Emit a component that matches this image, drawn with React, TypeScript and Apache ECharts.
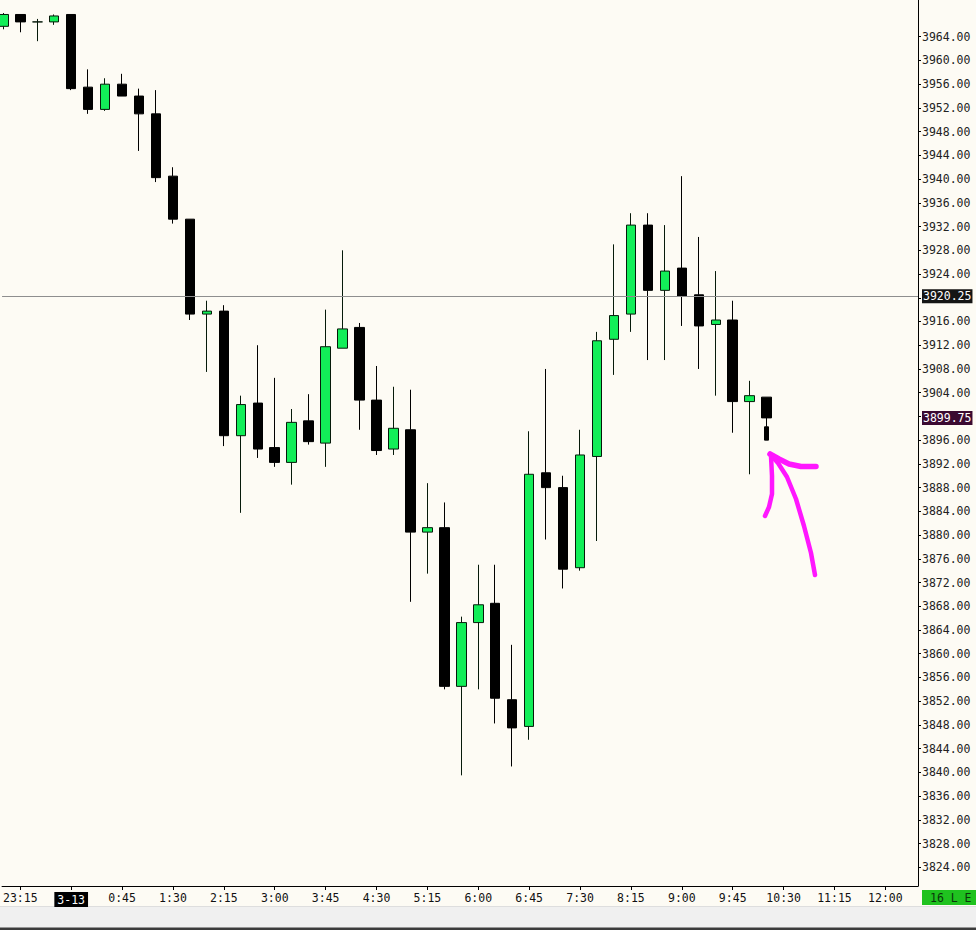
import React, { useEffect, useRef } from "react";
import * as echarts from "echarts";

// 15-minute candles, 3-12 23:00 .. 3-13 10:15
const TIMES = [
  "23:00", "23:15", "23:30", "23:45", "0:00", "0:15", "0:30", "0:45", "1:00", "1:15",
  "1:30", "1:45", "2:00", "2:15", "2:30", "2:45", "3:00", "3:15", "3:30", "3:45",
  "4:00", "4:15", "4:30", "4:45", "5:00", "5:15", "5:30", "5:45", "6:00", "6:15",
  "6:30", "6:45", "7:00", "7:15", "7:30", "7:45", "8:00", "8:15", "8:30", "8:45",
  "9:00", "9:15", "9:30", "9:45", "10:00", "10:15",
];
const OPEN = [
  3965.75, 3967.75, 3966.5, 3966.5, 3967.75, 3955.5, 3951.75, 3956, 3954, 3951,
  3940.5, 3933.25, 3917.25, 3917.75, 3896.75, 3902.25, 3894.75, 3892.25, 3899.25, 3895.5,
  3911.5, 3915, 3902.75, 3894.5, 3897.75, 3880.5, 3881.25, 3854.5, 3865.25, 3868.5,
  3852.25, 3847.75, 3890.5, 3888, 3874.5, 3893.25, 3913, 3917.25, 3932.25, 3921.25,
  3925, 3920.5, 3915.5, 3916.25, 3902.5, 3903.25,
];
const CLOSE = [
  3967.75, 3966.5, 3966.5, 3967.5, 3955.25, 3951.75, 3956, 3954, 3951, 3940.25,
  3933.25, 3917.25, 3917.75, 3896.75, 3902, 3894.5, 3892.25, 3899, 3895.75, 3911.75,
  3914.75, 3902.75, 3894.25, 3898, 3880.5, 3881.25, 3854.5, 3865.25, 3868.25, 3852.5,
  3847.5, 3890.25, 3888, 3874.25, 3893.5, 3912.75, 3917, 3932.25, 3921.25, 3924.5,
  3920.25, 3915.25, 3916.25, 3902.5, 3903.5, 3899.75,
];
const LOW = [
  3965.25, 3964.75, 3963.25, 3966, 3955, 3951, 3951.5, 3954, 3944.75, 3939.5,
  3932.5, 3916.25, 3907.5, 3895, 3883.75, 3893, 3891.5, 3888.5, 3895.25, 3891.5,
  3911.5, 3897.75, 3893.5, 3893.5, 3868.75, 3873.5, 3854, 3839.5, 3854, 3848.25,
  3841, 3845.5, 3879.25, 3871, 3874, 3879, 3907, 3914.25, 3909.5, 3909.5,
  3915.25, 3908, 3903.5, 3897.25, 3890.25, 3898.25,
];
const HIGH = [
  3968, 3967.75, 3967, 3967.75, 3967.75, 3958.5, 3957, 3957.75, 3955.25, 3955,
  3942, 3933.25, 3919.5, 3918.75, 3903.5, 3912, 3906.5, 3901.25, 3903.75, 3918,
  3928, 3915.75, 3908.5, 3905, 3904.5, 3888.75, 3885.5, 3866.25, 3875, 3875,
  3861.5, 3897.5, 3908, 3890, 3897.75, 3914.25, 3929, 3934.25, 3934.25, 3932.25,
  3940.5, 3930.25, 3924.5, 3919.5, 3906, 3903.25,
];
// narrow marker drawn under the live candle
const MARK_TIME = ["10:15"];
const MARK_OPEN = [3898.25];
const MARK_CLOSE = [3896];

const X_TICKS = [
  "23:15", "0:00", "0:45", "1:30", "2:15", "3:00", "3:45", "4:30", "5:15",
  "6:00", "6:45", "7:30", "8:15", "9:00", "9:45", "10:30", "11:15", "12:00",
];
const DATE_LABELS: Record<string, string> = { "0:00": "3-13" };
const Y_TICKS = [
  3824, 3828, 3832, 3836, 3840, 3844, 3848, 3852, 3856, 3860, 3864, 3868,
  3872, 3876, 3880, 3884, 3888, 3892, 3896, 3900, 3904, 3908, 3912, 3916,
  3920, 3924, 3928, 3932, 3936, 3940, 3944, 3948, 3952, 3956, 3960, 3964,
];
const REF_PRICE = 3920.25;
const STATUS_TEXT = "16 L E";

const MONO = "'DejaVu Sans Mono', 'Liberation Mono', monospace";

const slot = (t: string) => {
  const [h, m] = t.split(":").map(Number);
  return ((h * 60 + m - 23 * 60 + 1440) % 1440) / 15;
};

const ARROW_SHAFT = [[815, 575], [811, 553], [804, 526], [796, 499], [787, 477], [778, 463], [770, 454]];
const ARROW_RIGHT = [[770, 454], [779, 459], [789, 464], [801, 466.5], [816, 466.5]];
const ARROW_LEFT = [[771, 456], [772, 476], [772, 494], [769, 507], [765, 516]];

export default function App() {
  const ref = useRef<HTMLDivElement>(null);
  useEffect(() => {
    if (!ref.current) return;
    const chart = echarts.init(ref.current, undefined, { renderer: "svg" });
    const candles = TIMES.map((t, i) => [slot(t), OPEN[i], CLOSE[i], LOW[i], HIGH[i]]);
    const marks = MARK_TIME.map((t, i) => [
      slot(t), MARK_OPEN[i], MARK_CLOSE[i],
      Math.min(MARK_OPEN[i], MARK_CLOSE[i]), Math.max(MARK_OPEN[i], MARK_CLOSE[i]),
    ]);
    const lastClose = CLOSE[CLOSE.length - 1];
    const tickVals = X_TICKS.map(slot);
    const arrowStyle = {
      stroke: "#ff17ff", lineWidth: 4.5, fill: "none", lineCap: "round", lineJoin: "round",
    };
    const priceLabel = (bg: string) => ({
      show: true, position: "end", distance: 4,
      formatter: (p: any) => Number(p.value).toFixed(2),
      color: "#fff", backgroundColor: bg, padding: [1, 1, 1, 1],
      fontFamily: MONO, fontSize: 11.5,
    });
    chart.setOption({
      animation: false,
      backgroundColor: "#fdfbf4",
      grid: { left: 0, top: 0, width: 918, height: 886, containLabel: false },
      xAxis: {
        type: "value",
        min: -1.3 / 17,
        max: (918 - 1.3) / 17,
        splitLine: { show: false },
        axisLine: { show: true, onZero: false, lineStyle: { color: "#000", width: 1 } },
        axisTick: { show: true, length: 4, lineStyle: { color: "#000" }, customValues: tickVals },
        axisLabel: {
          customValues: tickVals,
          margin: 6,
          fontFamily: MONO,
          fontSize: 11.5,
          color: "#111",
          formatter: (v: number) => {
            const t = X_TICKS.find((x) => slot(x) === Math.round(v));
            if (!t) return "";
            return DATE_LABELS[t] ? `{d|${DATE_LABELS[t]}}` : t;
          },
          rich: {
            d: {
              backgroundColor: "#000", color: "#fff", padding: [2, 3, 1, 3],
              fontFamily: MONO, fontSize: 11.5,
            },
          },
        },
      },
      yAxis: {
        type: "value",
        position: "right",
        min: 3820.85,
        max: 3970.19,
        splitLine: { show: false },
        axisLine: { show: true, onZero: false, lineStyle: { color: "#000", width: 1 } },
        axisTick: { show: true, length: 3, lineStyle: { color: "#000" }, customValues: Y_TICKS },
        axisLabel: {
          customValues: Y_TICKS,
          margin: 4,
          fontFamily: MONO,
          fontSize: 11.5,
          color: "#222",
          formatter: (v: number) => v.toFixed(2),
        },
      },
      series: [
        {
          type: "candlestick",
          data: candles,
          barWidth: 10,
          itemStyle: {
            color: "#12ee58",
            color0: "#000",
            borderColor: "#061a0a",
            borderColor0: "#000",
            borderWidth: 1,
          },
          markLine: {
            silent: true,
            symbol: ["none", "none"],
            animation: false,
            data: [
              {
                yAxis: REF_PRICE,
                lineStyle: { color: "#8e8e8e", width: 1, type: "solid" },
                label: priceLabel("#151515"),
              },
            ],
          },
        },
        {
          type: "candlestick",
          data: marks,
          barWidth: 4,
          itemStyle: { color: "#000", color0: "#000", borderColor: "#000", borderColor0: "#000", borderWidth: 1 },
          markLine: {
            silent: true,
            symbol: ["none", "none"],
            animation: false,
            data: [
              {
                yAxis: lastClose,
                lineStyle: { color: "rgba(0,0,0,0)", width: 1, type: "solid" },
                label: priceLabel("#3b0a31"),
              },
            ],
          },
        },
      ],
      graphic: [
        { type: "rect", shape: { x: 0, y: 906, width: 976, height: 1 }, style: { fill: "#dedede" }, silent: true },
        { type: "rect", shape: { x: 0, y: 907, width: 976, height: 21 }, style: { fill: "#f0f0f0" }, silent: true },
        { type: "rect", shape: { x: 0, y: 927.5, width: 976, height: 3 }, style: { fill: "#3c3c3c" }, silent: true },
        { type: "rect", shape: { x: 922, y: 890, width: 54, height: 15 }, style: { fill: "#1fc21f" }, silent: true },
        {
          type: "text", x: 930, y: 897.5, silent: true,
          style: { text: STATUS_TEXT, fill: "#0b360b", font: `11.5px ${MONO}`, textVerticalAlign: "middle", verticalAlign: "middle" },
        },
        { type: "polyline", shape: { points: ARROW_SHAFT }, style: arrowStyle, silent: true, z: 100 },
        { type: "polyline", shape: { points: ARROW_RIGHT }, style: { ...arrowStyle, lineWidth: 5.5 }, silent: true, z: 100 },
        { type: "polyline", shape: { points: ARROW_LEFT }, style: arrowStyle, silent: true, z: 100 },
      ],
    });
    return () => chart.dispose();
  }, []);
  return <div ref={ref} style={{ position: "absolute", left: 0, top: 0, width: 976, height: 930 }} />;
}
